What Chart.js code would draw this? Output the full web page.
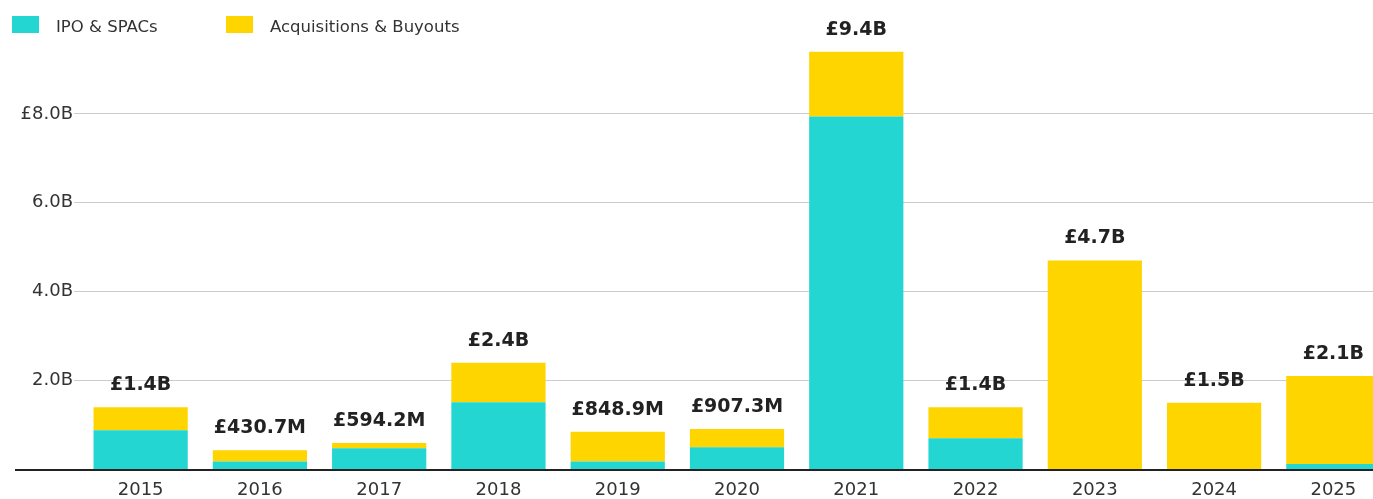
<!DOCTYPE html>
<html>
<head>
<meta charset="utf-8">
<script src="https://cdn.jsdelivr.net/npm/chart.js@4/dist/chart.umd.min.js"></script>
<style>
  html, body { margin: 0; padding: 0; background: #fff; overflow: hidden; }
  #wrap { position: relative; width: 1393px; height: 511px; }
  #legend { position: absolute; left: 12px; top: 16px; font-family: "DejaVu Sans", sans-serif; font-size: 16.5px; color: #333; white-space: nowrap; }
  .item { display: inline-flex; align-items: center; min-width: 214px; height: 17px; white-space: nowrap; }
  .item .box { width: 27px; height: 17px; margin-right: 17px; flex: none; }
  .item .txt { position: relative; top: 2px; }
</style>
</head>
<body>
<div id="wrap">
  <div id="legend"></div>
  <canvas id="myChart" width="1393" height="511"></canvas>
</div>
<script>
// datos (miles de millones de libras)
const years = ['2015','2016','2017','2018','2019','2020','2021','2022','2023','2024','2025'];
const ipoSpacs = [0.88, 0.18, 0.475, 1.51, 0.18, 0.50, 7.94, 0.70, 0, 0, 0.12];
const acquisitions = [0.52, 0.2507, 0.1192, 0.89, 0.6689, 0.4073, 1.46, 0.70, 4.7, 1.5, 1.98];
const totalLabels = ['£1.4B','£430.7M','£594.2M','£2.4B','£848.9M','£907.3M','£9.4B','£1.4B','£4.7B','£1.5B','£2.1B'];
const yTicks = [2, 4, 6, 8];
const yTickLabels = ['2.0B', '4.0B', '6.0B', '£8.0B'];

const colorIpo = '#24d6d2';
const colorAcq = '#ffd500';

// etiquetas de total encima de cada barra + linea base
const totalsPlugin = {
  id: 'totals',
  afterDatasetsDraw(chart){
    const ctx = chart.ctx;
    const top = chart.getDatasetMeta(chart.data.datasets.length - 1).data;
    ctx.save();
    ctx.font = 'bold 19px "DejaVu Sans", sans-serif';
    ctx.fillStyle = '#222';
    ctx.textAlign = 'center';
    ctx.textBaseline = 'middle';
    top.forEach((bar, i) => {
      ctx.fillText(totalLabels[i], bar.x, bar.y - 22);
    });
    // eje x oscuro
    const y0 = chart.scales.y.getPixelForValue(0);
    ctx.fillStyle = '#222';
    ctx.fillRect(15, Math.round(y0), chart.width - 15, 2);
    ctx.restore();
  }
};

const ctx = document.getElementById('myChart').getContext('2d');
const myChart = new Chart(ctx, {
  type: 'bar',
  data: {
    labels: years,
    datasets: [{
      label: 'IPO & SPACs',
      data: ipoSpacs,
      backgroundColor: colorIpo,
      borderWidth: 0
    },{
      label: 'Acquisitions & Buyouts',
      data: acquisitions,
      backgroundColor: colorAcq,
      borderWidth: 0
    }]
  },
  options: {
    responsive: false,
    animation: false,
    layout: { padding: { top: 45, left: 0, right: 0, bottom: 0 } },
    plugins: {
      legend: { display: false },
      tooltip: { enabled: false }
    },
    datasets: { bar: { categoryPercentage: 1, barPercentage: 0.79 } },
    scales: {
      x: {
        stacked: true,
        grid: { display: false, drawTicks: false },
        border: { display: false },
        ticks: {
          padding: 10,
          color: '#333',
          font: { family: '"DejaVu Sans", sans-serif', size: 18 }
        }
      },
      y: {
        stacked: true,
        min: 0,
        max: 9.55,
        afterBuildTicks: s => { s.ticks = yTicks.map(v => ({ value: v })); },
        afterFit: s => { s.width = 81; },
        grid: { color: '#cccccc', tickLength: 7, drawTicks: true },
        border: { display: false },
        ticks: {
          padding: 1,
          color: '#333',
          font: { family: '"DejaVu Sans", sans-serif', size: 18 },
          callback: v => yTickLabels[yTicks.indexOf(v)]
        }
      }
    }
  },
  plugins: [totalsPlugin]
});

// leyenda en html
const legendEl = document.getElementById('legend');
myChart.data.datasets.forEach(ds => {
  legendEl.insertAdjacentHTML('beforeend',
    `<span class="item"><span class="box" style="background:${ds.backgroundColor}"></span><span class="txt">${ds.label}</span></span>`);
});
</script>
</body>
</html>
